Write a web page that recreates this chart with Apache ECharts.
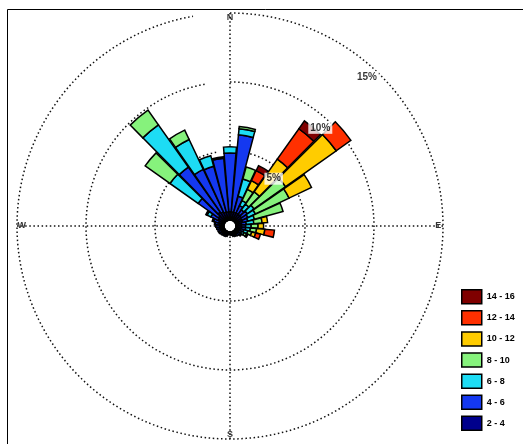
<!DOCTYPE html>
<html>
<head>
<meta charset="utf-8">
<script src="https://cdn.jsdelivr.net/npm/echarts@6/dist/echarts.min.js"></script>
<style>
html, body { margin: 0; padding: 0; background: #fff; }
#chart { width: 523px; height: 444px; }
</style>
</head>
<body>
<div id="chart"></div>
<script>
// Wind direction sectors (degrees, clockwise from north)
const directions = ['0','10','20','30','40','50','60','70','80','90','100','110',
  '120','130','140','150','160','170','180','190','200','210','220','230',
  '240','250','260','270','280','290','300','310','320','330','340','350'];

// Frequency (%) per direction for each wind speed class
const freq2to4 = [0.6,0.6,0.6,0.6,0.6,0.6,0.5,0.5,0.4,0.4,0.4,0.35,
  0.3,0.3,0.3,0.3,0.25,0.25,0.2,0.2,0.25,0.25,0.3,0.3,
  0.3,0.3,0.3,0.3,0.35,0.4,0.5,0.6,0.8,0.7,0.6,0.6];
const freq4to6 = [4.25,5.6,1.2,0.6,0.4,0.5,0.5,0.4,0.35,0.3,0.3,0.25,
  0.2,0.2,0.15,0.1,0.1,0,0,0,0.1,0.15,0.1,0.15,
  0.2,0.2,0.25,0.3,0.3,0.4,0.6,1.8,4.0,3.4,3.45,3.9];
const freq6to8 = [0.45,0.45,1.3,0.4,0.5,0.6,0.6,0.5,0.55,0.4,0.35,0.3,
  0.2,0.1,0,0,0,0,0,0,0,0,0,0,
  0,0,0,0,0.05,0.1,0.3,2.5,3.75,2.4,0.8,0.1];
const freq8to10 = [0,0.15,0.9,0.9,1.1,2.8,2.7,2.15,0.6,0.5,0.45,0.3,
  0.2,0,0,0,0,0,0,0,0,0,0,0,
  0,0,0,0,0,0,0.1,2.2,1.3,0.75,0,0];
const freq10to12 = [0,0,0,0.7,2.9,4.5,1.8,0,0.4,0.4,0.6,0.3,
  0.1,0,0,0,0,0,0,0,0,0,0,0,
  0,0,0,0,0,0,0,0,0,0,0,0];
const freq12to14 = [0,0,0,0.8,2.7,1.3,0,0,0,0,0.7,0.35,
  0,0,0,0,0,0,0,0,0,0,0,0,
  0,0,0,0,0,0,0,0,0,0,0,0];
const freq14to16 = [0,0,0,0.4,0.7,0,0,0,0,0,0,0,
  0,0,0,0,0,0,0,0,0,0,0,0,
  0,0,0,0,0,0,0,0,0,0,0,0];

const speedClasses = ['2 - 4','4 - 6','6 - 8','8 - 10','10 - 12','12 - 14','14 - 16'];
const classFreqs = [freq2to4, freq4to6, freq6to8, freq8to10, freq10to12, freq12to14, freq14to16];
const classColors = ['#00008c','#1438f0','#1ddcf4','#86f27c','#ffcc00','#ff3000','#7f0000'];

// Ring annotations and compass points
const ringValues = [5, 10, 15];
const ringLabels = ['5%', '10%', '15%'];
const ringLabelBearing = 42.5;
const compassLabels = ['N', 'E', 'S', 'W'];
const compassBearings = [0, 90, 180, 270];
const compassRadius = 14.65;

const center = [230, 226];
const radius = [6, 213];
const font = 'Liberation Sans, Arial, sans-serif';
const dotted = { color: '#111', width: 1.5, type: [1.5, 2.6] };

const barSeries = speedClasses.map((name, i) => ({
  type: 'bar',
  name: name,
  coordinateSystem: 'polar',
  polarIndex: 0,
  stack: 'speed',
  barWidth: 9.4,
  silent: true,
  data: classFreqs[i].map(v => (v > 0 ? v : '-')),
  itemStyle: { color: classColors[i], borderColor: '#000', borderWidth: 1.5 }
}));

const ringLabelSeries = {
  type: 'scatter',
  coordinateSystem: 'polar',
  polarIndex: 1,
  symbolSize: 0,
  silent: true,
  z: 5,
  data: ringValues.map((v, i) => ({
    value: [v, ringLabelBearing],
    label: { formatter: ringLabels[i] }
  })),
  label: {
    show: true,
    position: 'inside',
    offset: [-7, 8],
    color: '#000',
    fontFamily: font,
    fontWeight: 'bold',
    fontSize: 10,
    backgroundColor: '#fff',
    padding: [1, 2]
  }
};

const compassSeries = {
  type: 'scatter',
  coordinateSystem: 'polar',
  polarIndex: 1,
  symbolSize: 0,
  silent: true,
  z: 5,
  data: compassBearings.map((b, i) => ({
    value: [compassRadius, b],
    label: { formatter: compassLabels[i] }
  })),
  label: {
    show: true,
    position: 'inside',
    color: '#000',
    fontFamily: font,
    fontWeight: 'bold',
    fontSize: 9
  }
};

const chart = echarts.init(document.getElementById('chart'));
chart.setOption({
  animation: false,
  backgroundColor: '#fff',
  graphic: [{
    type: 'rect',
    shape: { x: 7.5, y: 9.5, width: 530, height: 450 },
    style: { fill: 'none', stroke: '#000', lineWidth: 1 },
    silent: true,
    z: -10
  }],
  polar: [
    { center: center, radius: radius },
    { center: center, radius: radius }
  ],
  angleAxis: [
    {
      polarIndex: 0,
      type: 'category',
      data: directions,
      startAngle: 90,
      clockwise: true,
      boundaryGap: false,
      axisLine: { show: false },
      axisTick: { show: false, interval: 8 },
      axisLabel: { show: false, interval: 8 },
      splitLine: { show: true, interval: 8, lineStyle: dotted },
      splitArea: { show: false }
    },
    {
      polarIndex: 1,
      type: 'value',
      min: 0, max: 360,
      startAngle: 90,
      clockwise: true,
      show: false,
      axisLine: { show: false },
      axisTick: { show: false },
      axisLabel: { show: false },
      splitLine: { show: false }
    }
  ],
  radiusAxis: [
    {
      polarIndex: 0,
      type: 'value',
      min: 0, max: 15, interval: 5,
      axisLine: { show: false },
      axisTick: { show: false },
      axisLabel: { show: false },
      splitLine: { show: true, lineStyle: dotted }
    },
    {
      polarIndex: 1,
      type: 'value',
      min: 0, max: 15,
      show: false,
      axisLine: { show: false },
      axisTick: { show: false },
      axisLabel: { show: false },
      splitLine: { show: false }
    }
  ],
  legend: {
    orient: 'vertical',
    left: 461,
    top: 289,
    padding: 0,
    data: speedClasses.slice().reverse(),
    icon: 'rect',
    itemWidth: 20,
    itemHeight: 14,
    itemGap: 5.6,
    selectedMode: false,
    textStyle: { color: '#000', fontFamily: font, fontWeight: 'bold', fontSize: 9 },
    itemStyle: { borderColor: '#000', borderWidth: 1.5 }
  },
  series: barSeries.concat([ringLabelSeries, compassSeries])
});
</script>
</body>
</html>
